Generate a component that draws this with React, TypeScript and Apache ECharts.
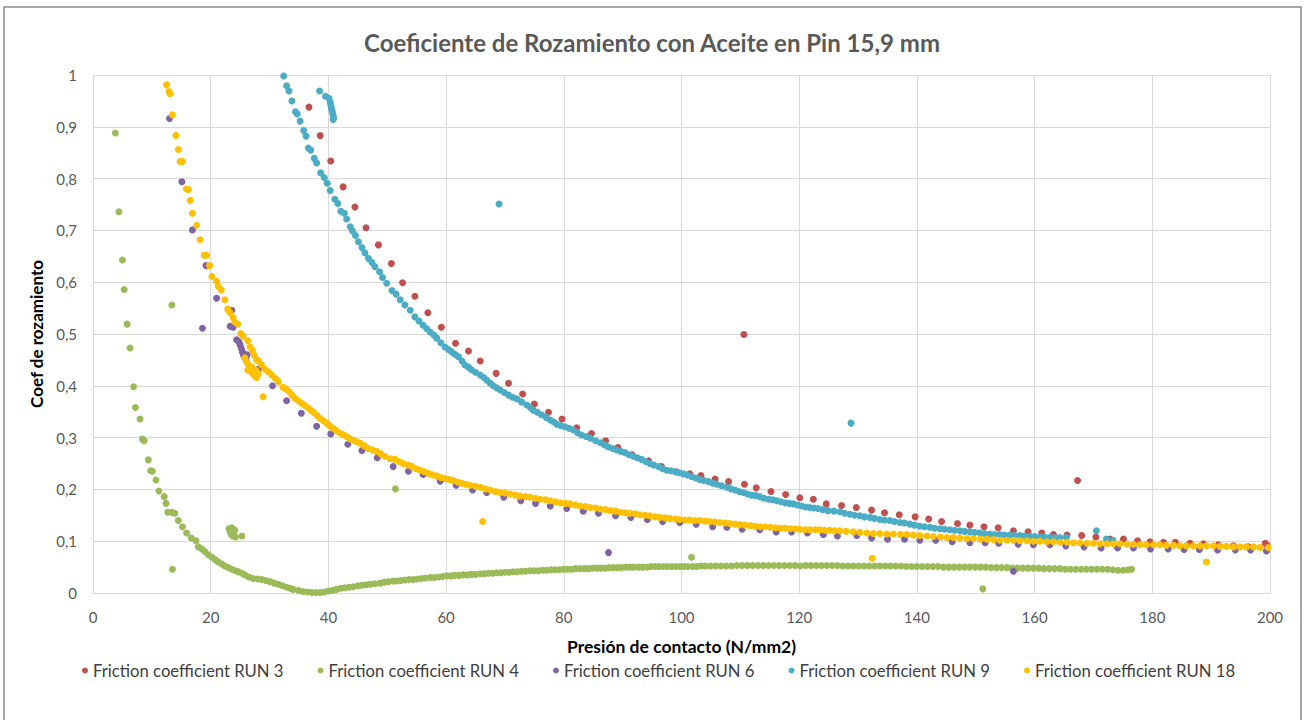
import React, { useEffect, useRef } from "react";
import * as echarts from "echarts";

const chartTitle = "Coeficiente de Rozamiento con Aceite en Pin 15,9 mm";
const xAxisName = "Presión de contacto (N/mm2)";
const yAxisName = "Coef de rozamiento";
const seriesNames = [
  "Friction coefficient RUN 3",
  "Friction coefficient RUN 4",
  "Friction coefficient RUN 6",
  "Friction coefficient RUN 9",
  "Friction coefficient RUN 18",
];
const seriesColors = ["#C0504D", "#9BBB59", "#8064A2", "#4BACC6", "#FFC000"];

const run3: number[][] = [
  [36.7, 0.938], [38.6, 0.883], [40.4, 0.834], [42.5, 0.784], [44.5, 0.745], [46.4, 0.705], [48.5, 0.672],
  [50.7, 0.636], [52.6, 0.599], [54.7, 0.573], [56.9, 0.541], [59.2, 0.513], [61.6, 0.482], [63.8, 0.467],
  [65.8, 0.448], [68.5, 0.424], [70.6, 0.405], [73.0, 0.384], [75.0, 0.365], [77.4, 0.349], [79.7, 0.336],
  [82.2, 0.319], [84.7, 0.308], [87.1, 0.294], [89.2, 0.281], [91.6, 0.267], [94.4, 0.255], [96.6, 0.244],
  [99.1, 0.234], [101.4, 0.230], [103.3, 0.227], [105.7, 0.220], [108.0, 0.215], [110.7, 0.210], [112.7, 0.203],
  [115.2, 0.196], [117.7, 0.190], [120.1, 0.184], [122.4, 0.181], [124.6, 0.172], [127.2, 0.169], [129.7, 0.165],
  [132.3, 0.160], [134.5, 0.155], [137.0, 0.151], [139.7, 0.147], [142.0, 0.143], [144.2, 0.138], [146.9, 0.134],
  [149.0, 0.131], [151.4, 0.128], [153.8, 0.126], [156.4, 0.120], [158.9, 0.118], [161.2, 0.116], [163.2, 0.113],
  [165.5, 0.112], [168.0, 0.111], [170.4, 0.108], [172.8, 0.104], [175.1, 0.104], [177.5, 0.101], [179.6, 0.099],
  [181.9, 0.098], [183.9, 0.098], [186.4, 0.096], [188.7, 0.095], [191.2, 0.093], [193.8, 0.091], [196.3, 0.089],
  [199.2, 0.096], [199.5, 0.092], [110.6, 0.499], [167.3, 0.217],
];

const run4: number[][] = [
  [3.8, 0.888], [4.4, 0.736], [5.0, 0.643], [5.3, 0.586], [5.8, 0.519], [6.3, 0.473], [6.9, 0.398], [7.2, 0.358],
  [8.0, 0.336], [8.4, 0.297], [8.7, 0.294], [9.4, 0.257], [9.8, 0.236], [10.1, 0.235], [10.7, 0.218], [11.2, 0.197],
  [12.1, 0.186], [12.4, 0.173], [12.7, 0.156], [13.4, 0.156], [13.9, 0.154], [14.5, 0.140], [15.2, 0.128], [15.9, 0.116],
  [16.7, 0.106], [17.5, 0.101], [17.9, 0.089], [18.5, 0.085], [19.0, 0.080], [19.6, 0.074], [20.2, 0.069], [20.8, 0.064],
  [21.3, 0.060], [21.9, 0.056], [22.4, 0.052], [23.0, 0.049], [23.6, 0.046], [24.2, 0.043], [24.7, 0.041], [25.3, 0.038],
  [25.8, 0.035], [26.5, 0.031], [27.2, 0.028], [28.0, 0.027], [28.7, 0.026], [29.4, 0.024], [30.1, 0.022], [30.8, 0.019],
  [31.5, 0.017], [32.2, 0.014], [32.9, 0.011], [33.5, 0.009], [34.0, 0.007], [34.9, 0.005], [35.7, 0.003], [36.5, 0.002],
  [37.2, 0.001], [37.9, 0.001], [38.6, 0.001], [39.3, 0.002], [40.0, 0.004], [40.7, 0.005], [41.4, 0.007], [42.1, 0.009],
  [42.8, 0.010], [43.5, 0.011], [44.2, 0.012], [45.0, 0.014], [45.7, 0.015], [46.4, 0.016], [47.1, 0.017], [47.9, 0.018],
  [48.8, 0.019], [49.5, 0.021], [50.2, 0.022], [51.0, 0.023], [51.6, 0.023], [52.3, 0.024], [53.0, 0.025], [53.7, 0.026],
  [54.4, 0.026], [55.1, 0.027], [55.8, 0.028], [56.5, 0.029], [57.3, 0.030], [58.0, 0.030], [58.7, 0.031], [59.4, 0.032],
  [60.1, 0.033], [60.8, 0.033], [61.5, 0.034], [62.2, 0.034], [62.9, 0.035], [63.6, 0.035], [64.3, 0.036], [65.0, 0.036],
  [65.8, 0.037], [66.5, 0.037], [67.2, 0.038], [67.9, 0.038], [68.6, 0.039], [69.3, 0.039], [70.0, 0.040], [70.7, 0.040],
  [71.4, 0.041], [72.1, 0.041], [72.8, 0.042], [73.5, 0.042], [74.3, 0.043], [75.0, 0.043], [75.7, 0.043], [76.4, 0.044],
  [77.1, 0.044], [77.8, 0.045], [78.5, 0.045], [79.2, 0.045], [79.9, 0.046], [80.6, 0.046], [81.3, 0.046], [82.0, 0.047],
  [82.8, 0.047], [83.5, 0.047], [84.2, 0.047], [84.9, 0.048], [85.6, 0.048], [86.3, 0.048], [87.0, 0.048], [87.7, 0.049],
  [88.4, 0.049], [89.1, 0.049], [89.8, 0.049], [90.5, 0.050], [91.2, 0.050], [91.9, 0.050], [92.7, 0.050], [93.4, 0.050],
  [94.1, 0.050], [94.8, 0.051], [95.5, 0.051], [96.2, 0.051], [96.9, 0.051], [97.6, 0.051], [98.3, 0.051], [99.0, 0.051],
  [99.7, 0.051], [100.4, 0.051], [101.1, 0.051], [101.9, 0.051], [102.6, 0.051], [103.3, 0.052], [104.0, 0.052],
  [104.9, 0.052], [105.8, 0.052], [106.7, 0.052], [107.6, 0.052], [108.5, 0.052], [109.4, 0.053], [110.3, 0.053],
  [111.2, 0.053], [112.1, 0.053], [113.0, 0.053], [113.9, 0.053], [114.8, 0.053], [115.7, 0.053], [116.6, 0.053],
  [117.5, 0.053], [118.4, 0.053], [119.3, 0.053], [120.2, 0.052], [121.1, 0.053], [122.0, 0.053], [122.9, 0.053],
  [123.8, 0.053], [124.7, 0.053], [125.6, 0.053], [126.5, 0.053], [127.4, 0.052], [128.3, 0.052], [129.2, 0.052],
  [130.1, 0.052], [131.0, 0.052], [131.9, 0.052], [132.8, 0.052], [133.7, 0.052], [134.6, 0.052], [135.5, 0.052],
  [136.4, 0.052], [137.3, 0.052], [138.2, 0.051], [139.1, 0.051], [140.0, 0.051], [140.9, 0.051], [141.8, 0.051],
  [142.7, 0.051], [143.6, 0.051], [144.5, 0.050], [145.4, 0.050], [146.3, 0.050], [147.2, 0.050], [148.1, 0.050],
  [149.0, 0.050], [149.9, 0.050], [150.8, 0.050], [151.7, 0.050], [152.6, 0.049], [153.5, 0.049], [154.4, 0.049],
  [155.3, 0.049], [156.2, 0.048], [157.1, 0.048], [158.0, 0.048], [158.9, 0.048], [159.8, 0.048], [160.7, 0.048],
  [161.6, 0.047], [162.5, 0.047], [163.4, 0.047], [164.3, 0.047], [165.2, 0.046], [166.1, 0.046], [167.0, 0.046],
  [167.9, 0.046], [168.8, 0.046], [169.7, 0.046], [170.6, 0.046], [171.5, 0.046], [172.4, 0.046], [173.3, 0.045],
  [174.2, 0.044], [175.1, 0.044], [175.9, 0.045], [176.5, 0.046],
  [13.4, 0.556], [13.5, 0.046], [23.1, 0.124], [23.3, 0.118], [23.5, 0.113], [23.7, 0.110], [23.9, 0.116],
  [24.1, 0.121], [23.6, 0.126], [24.2, 0.108], [25.3, 0.110], [51.4, 0.201], [101.7, 0.069], [151.2, 0.008],
];

const run6: number[][] = [
  [13.0, 0.916], [15.1, 0.794], [16.9, 0.701], [19.2, 0.632], [18.6, 0.511], [21.0, 0.569], [23.6, 0.546],
  [23.3, 0.515], [23.8, 0.513], [24.4, 0.489], [25.0, 0.479], [24.8, 0.485], [25.2, 0.472], [25.4, 0.465],
  [25.6, 0.458], [25.9, 0.452], [26.2, 0.460], [25.5, 0.463], [26.0, 0.453], [28.1, 0.432], [30.5, 0.400],
  [32.9, 0.371], [35.4, 0.347], [38.0, 0.322], [40.4, 0.307], [43.3, 0.287], [45.7, 0.275], [48.3, 0.261],
  [51.0, 0.244], [53.6, 0.235], [56.1, 0.229], [59.0, 0.216], [61.7, 0.208], [64.5, 0.199], [66.9, 0.194],
  [69.8, 0.185], [72.7, 0.178], [75.2, 0.173], [77.7, 0.168], [80.5, 0.163], [83.3, 0.158], [85.9, 0.154],
  [88.8, 0.149], [91.4, 0.146], [94.2, 0.142], [96.8, 0.138], [99.7, 0.136], [102.5, 0.133], [105.3, 0.128],
  [107.7, 0.127], [110.3, 0.123], [113.3, 0.122], [116.1, 0.118], [118.7, 0.118], [121.4, 0.116], [124.1, 0.113],
  [126.5, 0.110], [129.8, 0.111], [132.3, 0.106], [135.0, 0.104], [137.9, 0.104], [140.5, 0.102], [143.2, 0.102],
  [146.0, 0.099], [149.0, 0.097], [151.6, 0.097], [153.9, 0.096], [157.2, 0.094], [159.8, 0.093], [162.6, 0.093],
  [165.3, 0.091], [168.4, 0.089], [171.3, 0.087], [174.1, 0.087], [176.8, 0.087], [179.7, 0.085], [182.7, 0.085],
  [185.4, 0.084], [188.0, 0.084], [191.1, 0.083], [194.1, 0.083], [196.7, 0.083], [199.4, 0.081],
  [87.6, 0.078], [156.4, 0.042],
];

const run9: number[][] = [
  [32.4, 0.998], [32.9, 0.979], [33.3, 0.969], [33.8, 0.950], [34.4, 0.929], [34.7, 0.925], [35.2, 0.911],
  [35.8, 0.893], [36.2, 0.882], [36.6, 0.859], [37.0, 0.855], [37.6, 0.839], [38.0, 0.830], [38.7, 0.811],
  [39.3, 0.802], [39.8, 0.791], [40.3, 0.777], [41.1, 0.760], [41.6, 0.752], [42.1, 0.737], [42.7, 0.733],
  [43.1, 0.722], [43.7, 0.707], [44.1, 0.699], [44.6, 0.690], [45.1, 0.678], [45.7, 0.667], [46.2, 0.657],
  [46.8, 0.646], [47.4, 0.638], [47.9, 0.630], [48.7, 0.620], [49.2, 0.609], [49.9, 0.598], [50.8, 0.584],
  [51.5, 0.577], [52.2, 0.566], [53.0, 0.556], [53.9, 0.546], [54.7, 0.533], [55.4, 0.525], [56.1, 0.517],
  [56.7, 0.510], [57.3, 0.504], [57.9, 0.498], [58.4, 0.492], [59.1, 0.483], [59.8, 0.475], [60.4, 0.470],
  [60.9, 0.466], [61.5, 0.461], [62.1, 0.456], [62.7, 0.448], [63.2, 0.440], [63.8, 0.436], [64.3, 0.431],
  [65.0, 0.426], [65.8, 0.421], [66.4, 0.416], [66.9, 0.411], [67.5, 0.405], [68.0, 0.400], [68.6, 0.396],
  [69.2, 0.392], [69.9, 0.387], [70.6, 0.382], [71.3, 0.378], [72.0, 0.375], [72.8, 0.369], [73.7, 0.363],
  [74.3, 0.358], [74.8, 0.353], [75.5, 0.349], [76.2, 0.344], [77.0, 0.339], [77.7, 0.334], [78.3, 0.330],
  [78.8, 0.326], [79.5, 0.323], [80.2, 0.321], [80.9, 0.318], [81.6, 0.315], [82.3, 0.310], [83.0, 0.305],
  [83.8, 0.302], [84.5, 0.299], [85.4, 0.294], [86.2, 0.290], [86.9, 0.286], [87.6, 0.282], [88.3, 0.279],
  [89.0, 0.276], [89.7, 0.273], [90.4, 0.271], [91.1, 0.267], [91.8, 0.264], [92.5, 0.261], [93.2, 0.258],
  [93.9, 0.254], [94.6, 0.250], [95.3, 0.247], [96.1, 0.244], [96.8, 0.240], [97.5, 0.237], [98.2, 0.236],
  [98.9, 0.234], [99.6, 0.232], [100.3, 0.230], [101.0, 0.228], [101.7, 0.225], [102.4, 0.222], [103.1, 0.219],
  [103.8, 0.217], [104.6, 0.215], [105.3, 0.212], [106.0, 0.210], [106.8, 0.207], [107.7, 0.204], [108.4, 0.201],
  [109.1, 0.199], [109.8, 0.196], [110.5, 0.194], [111.2, 0.191], [111.9, 0.189], [112.6, 0.188], [113.3, 0.186],
  [114.0, 0.183], [114.8, 0.181], [115.5, 0.180], [116.2, 0.178], [116.9, 0.176], [117.6, 0.174], [118.3, 0.173],
  [119.0, 0.172], [119.7, 0.170], [120.4, 0.168], [121.1, 0.166], [121.8, 0.165], [122.5, 0.164], [123.2, 0.163],
  [124.0, 0.161], [124.9, 0.159], [125.9, 0.158], [126.9, 0.157], [127.7, 0.154], [128.6, 0.152], [129.4, 0.150],
  [130.3, 0.149], [131.1, 0.147], [132.0, 0.146], [132.8, 0.144], [133.7, 0.142], [134.5, 0.141], [135.4, 0.140],
  [136.2, 0.138], [137.1, 0.136], [137.9, 0.135], [138.8, 0.133], [139.6, 0.131], [140.5, 0.129], [141.3, 0.128],
  [142.2, 0.127], [143.0, 0.125], [143.9, 0.124], [144.7, 0.123], [145.6, 0.122], [146.4, 0.121], [147.3, 0.120],
  [148.1, 0.119], [149.0, 0.118], [149.8, 0.117], [150.7, 0.116], [151.5, 0.115], [152.4, 0.114], [153.2, 0.113],
  [154.1, 0.113], [154.9, 0.112], [155.8, 0.112], [156.6, 0.111], [157.5, 0.111], [158.3, 0.110], [159.2, 0.109],
  [160.0, 0.109], [160.9, 0.108], [161.7, 0.108], [162.6, 0.107], [163.4, 0.107], [164.3, 0.107], [165.4, 0.107],
  [172.2, 0.104], [173.3, 0.102],
  [38.5, 0.969], [39.5, 0.959], [40.1, 0.955], [40.3, 0.948], [40.4, 0.942], [40.5, 0.937], [40.6, 0.932],
  [40.7, 0.927], [40.8, 0.922], [40.9, 0.917], [40.8, 0.914], [69.0, 0.751], [128.8, 0.328], [170.5, 0.120],
];

const run18: number[][] = [
  [12.5, 0.981], [12.9, 0.968], [13.1, 0.964], [13.5, 0.923], [14.1, 0.883], [14.5, 0.856], [14.8, 0.833],
  [15.2, 0.833], [15.9, 0.780], [16.2, 0.779], [16.5, 0.758], [16.9, 0.733], [17.6, 0.710], [18.2, 0.682],
  [18.9, 0.652], [19.3, 0.652], [19.8, 0.632], [20.2, 0.611], [21.0, 0.602], [21.3, 0.592], [21.8, 0.585],
  [22.4, 0.566], [22.9, 0.548], [23.3, 0.541], [23.8, 0.532], [24.1, 0.523], [24.6, 0.519], [25.1, 0.501],
  [25.5, 0.496], [26.3, 0.487], [26.7, 0.475], [27.1, 0.468], [27.4, 0.459], [27.8, 0.450], [28.1, 0.449],
  [28.6, 0.441], [29.2, 0.432], [29.8, 0.427], [30.4, 0.421], [31.0, 0.414], [31.5, 0.408], [32.3, 0.397],
  [32.8, 0.394], [33.3, 0.389], [33.8, 0.382], [34.3, 0.376], [34.9, 0.371], [35.5, 0.366], [36.0, 0.362],
  [36.6, 0.357], [37.1, 0.352], [37.6, 0.348], [38.1, 0.342], [38.6, 0.337], [39.1, 0.333], [39.7, 0.328],
  [40.2, 0.323], [40.8, 0.318], [41.3, 0.314], [41.9, 0.309], [42.5, 0.306], [43.1, 0.302], [43.6, 0.298],
  [44.2, 0.295], [44.8, 0.292], [45.4, 0.289], [46.1, 0.284], [46.8, 0.279], [47.5, 0.276], [48.2, 0.273],
  [48.9, 0.269], [49.6, 0.264], [50.5, 0.259], [51.3, 0.258], [52.0, 0.254], [52.7, 0.250], [53.5, 0.247],
  [54.2, 0.244], [54.9, 0.240], [55.6, 0.237], [56.3, 0.234], [57.0, 0.231], [57.7, 0.228], [58.4, 0.226],
  [59.1, 0.223], [59.8, 0.221], [60.5, 0.219], [61.2, 0.217], [62.0, 0.214], [62.7, 0.212], [63.4, 0.210],
  [64.1, 0.208], [65.0, 0.206], [65.8, 0.204], [66.7, 0.201], [67.5, 0.199], [68.4, 0.196], [69.2, 0.194],
  [70.0, 0.193], [70.9, 0.191], [71.8, 0.189], [72.6, 0.187], [73.5, 0.186], [74.3, 0.185], [75.2, 0.183],
  [76.0, 0.181], [76.9, 0.180], [77.7, 0.178], [78.6, 0.176], [79.4, 0.174], [80.3, 0.173], [81.1, 0.172],
  [82.0, 0.170], [82.8, 0.168], [83.7, 0.167], [84.5, 0.165], [85.4, 0.164], [86.2, 0.162], [87.1, 0.161],
  [87.9, 0.159], [88.8, 0.158], [89.6, 0.156], [90.4, 0.155], [91.2, 0.154], [92.1, 0.153], [92.9, 0.151],
  [93.8, 0.150], [94.6, 0.149], [95.5, 0.147], [96.3, 0.146], [97.2, 0.145], [98.0, 0.144], [98.9, 0.143],
  [99.7, 0.142], [100.6, 0.141], [101.4, 0.141], [102.3, 0.140], [103.1, 0.140], [104.0, 0.139], [104.8, 0.138],
  [105.7, 0.137], [106.5, 0.136], [107.4, 0.135], [108.2, 0.134], [109.1, 0.133], [109.9, 0.132], [110.8, 0.131],
  [111.7, 0.130], [112.5, 0.129], [113.4, 0.128], [114.2, 0.128], [115.1, 0.127], [116.0, 0.126], [116.8, 0.125],
  [117.6, 0.125], [118.4, 0.124], [119.3, 0.124], [120.1, 0.123], [121.0, 0.122], [121.8, 0.122], [122.7, 0.122],
  [123.5, 0.122], [124.3, 0.121], [125.2, 0.121], [126.0, 0.120], [126.9, 0.120], [128.0, 0.119], [129.2, 0.118],
  [130.3, 0.117], [131.5, 0.116], [132.6, 0.115], [133.7, 0.115], [134.9, 0.114], [136.0, 0.114], [137.2, 0.113],
  [138.3, 0.113], [139.4, 0.112], [140.5, 0.111], [141.7, 0.110], [142.8, 0.109], [144.0, 0.108], [145.1, 0.107],
  [146.2, 0.107], [147.3, 0.106], [148.5, 0.105], [149.6, 0.105], [150.8, 0.104], [151.9, 0.104], [153.0, 0.103],
  [154.1, 0.102], [155.3, 0.102], [156.4, 0.102], [157.5, 0.101], [158.7, 0.101], [159.8, 0.100], [160.9, 0.100],
  [162.1, 0.099], [163.2, 0.099], [164.3, 0.098], [165.5, 0.098], [166.6, 0.097], [167.7, 0.097], [168.9, 0.096],
  [170.0, 0.096], [171.1, 0.095], [172.3, 0.095], [173.4, 0.095], [174.5, 0.095], [175.7, 0.094], [176.8, 0.094],
  [177.9, 0.093], [179.0, 0.093], [180.2, 0.093], [181.3, 0.093], [182.4, 0.092], [183.6, 0.092], [184.7, 0.091],
  [185.8, 0.091], [187.0, 0.091], [188.1, 0.091], [189.2, 0.091], [190.4, 0.091], [191.5, 0.090], [192.6, 0.090],
  [193.8, 0.089], [194.9, 0.089], [196.0, 0.089], [197.2, 0.089], [198.3, 0.088], [199.7, 0.088],
  [25.8, 0.454], [26.1, 0.446], [26.4, 0.440], [26.6, 0.434], [26.8, 0.428], [27.1, 0.424], [27.4, 0.420],
  [27.8, 0.416], [28.1, 0.423], [27.7, 0.430], [26.3, 0.430], [27.0, 0.436],
  [28.9, 0.379], [66.2, 0.138], [132.4, 0.067], [189.2, 0.060],
];

const seriesData = [run3, run4, run6, run9, run18];

const FONT = "Lato, 'Open Sans', sans-serif";

export default function App() {
  const ref = useRef<HTMLDivElement>(null);
  useEffect(() => {
    if (!ref.current) return;
    const chart = echarts.init(ref.current, null, { renderer: "svg" });
    chart.setOption({
      animation: false,
      backgroundColor: "#ffffff",
      textStyle: { fontFamily: FONT },
      title: {
        text: chartTitle,
        left: "center",
        top: 25,
        textStyle: { fontSize: 24, fontWeight: "bold", color: "#595959", fontFamily: FONT },
      },
      graphic: [
        {
          type: "rect",
          shape: { x: 4, y: 7, width: 1297, height: 720 },
          style: { fill: "none", stroke: "#8a8a8a", lineWidth: 1.5 },
          silent: true,
        },
      ],
      legend: {
        data: seriesNames.map((n) => ({ name: n, icon: "circle" })),
        left: 77,
        top: 657,
        itemWidth: 6,
        itemHeight: 6,
        itemGap: 34,
        textStyle: { fontSize: 16.7, color: "#404040", fontFamily: FONT },
      },
      grid: { left: 93, right: 34, top: 75, bottom: 127, containLabel: false },
      xAxis: {
        type: "value",
        min: 0,
        max: 200,
        interval: 20,
        name: xAxisName,
        nameLocation: "middle",
        nameGap: 44,
        nameTextStyle: { fontSize: 17.5, fontWeight: "bold", color: "#000000", fontFamily: FONT },
        axisLine: { show: true, lineStyle: { color: "#d9d9d9", width: 1 } },
        axisTick: { show: false },
        axisLabel: { fontSize: 15, color: "#595959", margin: 16, fontFamily: FONT },
        splitLine: { show: true, lineStyle: { color: "#d9d9d9", width: 1 } },
      },
      yAxis: {
        type: "value",
        min: 0,
        max: 1,
        interval: 0.1,
        name: yAxisName,
        nameLocation: "middle",
        nameGap: 40,
        nameRotate: 90,
        nameTextStyle: { fontSize: 17, fontWeight: "bold", color: "#000000", fontFamily: FONT },
        axisLine: { show: true, lineStyle: { color: "#d9d9d9", width: 1 } },
        axisTick: { show: false },
        axisLabel: {
          fontSize: 15,
          color: "#595959",
          margin: 16,
          fontFamily: FONT,
          formatter: (v: number) => {
            const r = Math.round(v * 10) / 10;
            if (r === 0) return "0";
            if (r === 1) return "1";
            return r.toFixed(1).replace(".", ",");
          },
        },
        splitLine: { show: true, lineStyle: { color: "#d9d9d9", width: 1 } },
      },
      series: seriesNames.map((name, i) => ({
        name,
        type: "scatter",
        data: seriesData[i],
        symbol: "circle",
        symbolSize: 7,
        itemStyle: { color: seriesColors[i], opacity: 1 },
        emphasis: { disabled: true },
      })),
    });
    return () => chart.dispose();
  }, []);
  return (
    <div
      ref={ref}
      style={{ position: "fixed", left: 0, top: 0, width: 1304, height: 720, background: "#ffffff" }}
    />
  );
}
